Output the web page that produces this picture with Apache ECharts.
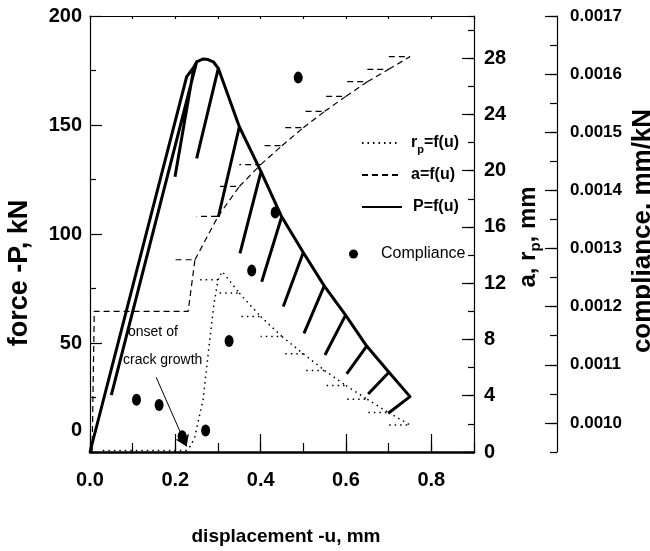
<!DOCTYPE html>
<html>
<head>
<meta charset="utf-8">
<script src="https://cdn.jsdelivr.net/npm/echarts@6/dist/echarts.min.js"></script>
<style>
  html, body { margin: 0; padding: 0; background: #fff; }
  #chart { width: 650px; height: 551px; }
</style>
</head>
<body>
<div id="chart"></div>
<script>
// Load-displacement record with partial unloading cycles.
// null entries split the polylines: each piece runs along the loading path
// to an unloading point and then down the unloading branch.
const forceU = [0, 0.2266, 0.2437, 0.1992, null,
  0.2437, 0.2500, 0.0499, null,
  0.2500, 0.2538, 0.2655, 0.2765, 0.2890, 0.3007, 0.2500, null,
  0.3007, 0.3500, 0.3007, null,
  0.3500, 0.4008, 0.3515, null,
  0.4008, 0.4493, 0.4024, null,
  0.4493, 0.4999, 0.4530, null,
  0.4999, 0.5490, 0.5015, null,
  0.5490, 0.5990, 0.5507, null,
  0.5990, 0.6485, 0.6016, null,
  0.6485, 0.7007, 0.6520, null,
  0.7007, 0.7500, 0.6990];
const forceP = [0, 172.2, 176.6, 126.3, null,
  176.6, 179.0, 26.1, null,
  179.0, 179.0, 180.3, 180.0, 179.0, 176.0, 134.7, null,
  176.0, 149.2, 107.8, null,
  149.2, 128.6, 91.1, null,
  128.6, 107.9, 78.1, null,
  107.9, 91.5, 66.7, null,
  91.5, 76.2, 54.4, null,
  76.2, 62.8, 44.5, null,
  62.8, 48.6, 35.8, null,
  48.6, 36.6, 26.6, null,
  36.6, 25.4, 17.8];

// Crack length a (mm) against displacement
const crackU = [0.005, 0.010, 0.230, 0.246, 0.199, null,
  0.246, 0.300, 0.250, null,
  0.300, 0.350, 0.300, null,
  0.350, 0.400, 0.350, null,
  0.400, 0.450, 0.400, null,
  0.450, 0.500, 0.450, null,
  0.500, 0.550, 0.500, null,
  0.550, 0.600, 0.550, null,
  0.600, 0.650, 0.600, null,
  0.650, 0.700, 0.650, null,
  0.700, 0.750, 0.700];
const crackA = [0, 10.0, 10.0, 13.67, 13.67, null,
  13.67, 16.75, 16.75, null,
  16.75, 18.88, 18.88, null,
  18.88, 20.43, 20.43, null,
  20.43, 21.78, 21.78, null,
  21.78, 23.06, 23.06, null,
  23.06, 24.22, 24.22, null,
  24.22, 25.29, 25.29, null,
  25.29, 26.33, 26.33, null,
  26.33, 27.21, 27.21, null,
  27.21, 28.11, 28.11];

// Plastic zone size r_p (mm) against displacement
const plasticU = [0.030, 0.225, 0.235, 0.245, 0.265, 0.280, 0.290, 0.300, 0.250, null,
  0.300, 0.310, 0.350, 0.300, null,
  0.350, 0.400, 0.350, null,
  0.400, 0.450, 0.400, null,
  0.450, 0.500, 0.450, null,
  0.500, 0.550, 0.500, null,
  0.550, 0.600, 0.550, null,
  0.600, 0.650, 0.600, null,
  0.650, 0.700, 0.650, null,
  0.700, 0.750, 0.700];
const plasticR = [0.1, 0.1, 0.4, 1.0, 3.7, 7.8, 10.4, 12.24, 12.24, null,
  12.24, 12.83, 11.30, 11.30, null,
  11.30, 9.63, 9.63, null,
  9.63, 8.21, 8.21, null,
  8.21, 6.98, 6.98, null,
  6.98, 5.79, 5.79, null,
  5.79, 4.72, 4.72, null,
  4.72, 3.75, 3.75, null,
  3.75, 2.80, 2.80, null,
  2.80, 1.92, 1.92];

// Compliance (mm/kN) from the unloading branches
const complianceU = [0.109, 0.162, 0.216, 0.271, 0.326, 0.379, 0.434, 0.488];
const complianceC = [0.001040, 0.001031, 0.000977, 0.000987, 0.001141, 0.001262, 0.001362, 0.001594];

// Tick label values
const complianceTicks = [0.0010, 0.0011, 0.0012, 0.0013, 0.0014, 0.0015, 0.0016, 0.0017];

// Onset-of-crack-growth pointer, in (u, P)
const onsetFrom = [0.155, 34.3];
const onsetTo = [0.2265, 2.5];

const FONT = "'Liberation Sans', Arial, Helvetica, sans-serif";
const BLACK = '#000';

const pairs = (xs, ys) => xs.map((x, i) => [x, ys[i]]);

const tickStyle = { color: BLACK, width: 1.2 };
const labelBase = { color: BLACK, fontFamily: FONT, fontWeight: 'bold', fontSize: 20 };

// Line legends show only the line sample, no marker
const lineLegend = (name, top, width, richText) => ({
  data: [name], left: 361, top: top, padding: 0, itemWidth: width, itemHeight: 14,
  itemStyle: { opacity: 0, borderWidth: 0 },
  formatter: richText,
  textStyle: { rich: {
    g: { width: 6 },
    t: { fontFamily: FONT, fontWeight: 'bold', fontSize: 16, color: BLACK, lineHeight: 24 },
    s: { fontFamily: FONT, fontWeight: 'bold', fontSize: 11, color: BLACK, lineHeight: 10, verticalAlign: 'bottom' }
  } }
});

const chart = echarts.init(document.getElementById('chart'), null, { renderer: 'canvas' });

chart.setOption({
  animation: false,
  backgroundColor: '#fff',
  grid: { left: 90, right: 176, top: 16, bottom: 99, outerBoundsMode: 'none' },
  xAxis: [
    {
      type: 'value', position: 'bottom', min: 0, max: 0.9, interval: 0.2,
      axisLine: { show: true, onZero: false, lineStyle: { color: BLACK, width: 2.5 } },
      axisTick: { show: true, inside: true, length: 18, lineStyle: tickStyle },
      axisLabel: Object.assign({}, labelBase, { margin: 18, showMaxLabel: false,
        formatter: v => v.toFixed(1) }),
      splitLine: { show: false }
    },
    {
      type: 'value', position: 'bottom', min: 0, max: 0.9, interval: 0.1,
      axisLine: { show: false, onZero: false },
      axisTick: { show: true, inside: true, length: 9, lineStyle: tickStyle },
      axisLabel: { show: false },
      splitLine: { show: false }
    },
    {
      type: 'value', position: 'top', min: 0, max: 0.9, interval: 0.1,
      axisLine: { show: true, onZero: false, lineStyle: { color: BLACK, width: 1.2 } },
      axisTick: { show: true, inside: true, length: 3, lineStyle: tickStyle },
      axisLabel: { show: false },
      splitLine: { show: false }
    }
  ],
  yAxis: [
    {
      type: 'value', position: 'left', min: 0, max: 200, interval: 50,
      axisLine: { show: true, onZero: false, lineStyle: { color: BLACK, width: 1.2 } },
      axisTick: { show: true, inside: true, length: 12, lineStyle: tickStyle },
      minorTick: { show: true, splitNumber: 2, length: 6, lineStyle: tickStyle },
      axisLabel: Object.assign({}, labelBase, {
        margin: 8,
        formatter: v => (v === 0 ? '{z|0}' : String(v)),
        rich: { z: Object.assign({}, labelBase, { padding: [0, 0, 44, 0] }) }
      }),
      splitLine: { show: false }
    },
    {
      type: 'value', position: 'right', min: 0, max: 31, interval: 4,
      axisLine: { show: true, onZero: false, lineStyle: { color: BLACK, width: 1.2 } },
      axisTick: { show: true, inside: true, length: 12, lineStyle: tickStyle },
      axisLabel: Object.assign({}, labelBase, { margin: 10, showMaxLabel: false }),
      splitLine: { show: false }
    },
    {
      type: 'value', position: 'right', min: 0, max: 31, interval: 2,
      axisLine: { show: false, onZero: false },
      axisTick: { show: true, inside: true, length: 6, lineStyle: tickStyle },
      axisLabel: { show: false },
      splitLine: { show: false }
    },
    {
      type: 'value', position: 'right', offset: 83, min: 0.00095, max: 0.0017,
      axisLine: { show: true, onZero: false, lineStyle: { color: BLACK, width: 1.2 } },
      axisTick: { show: true, inside: true, length: 12, lineStyle: tickStyle, customValues: complianceTicks },
      axisLabel: Object.assign({}, labelBase, { fontSize: 17, margin: 13,
        customValues: complianceTicks, formatter: v => v.toFixed(4) }),
      splitLine: { show: false }
    },
    {
      type: 'value', position: 'right', offset: 83, min: 0.00095, max: 0.0017, interval: 0.00005,
      axisLine: { show: false, onZero: false },
      axisTick: { show: true, inside: true, length: 7, lineStyle: tickStyle },
      axisLabel: { show: false },
      splitLine: { show: false }
    }
  ],
  legend: [
    lineLegend('rp=f(u)', 135, 38, () => '{g|}{t|r}{s|p}{t|=f(u)}'),
    lineLegend('a=f(u)', 167, 38, n => '{g|}{t|' + n + '}'),
    lineLegend('P=f(u)', 199, 40, n => '{g|}{t|' + n + '}'),
    {
      data: [{ name: 'Compliance', icon: 'circle' }], left: 349, top: 246, padding: 0,
      itemWidth: 9, itemHeight: 12, symbolKeepAspect: false,
      itemStyle: { color: BLACK },
      formatter: n => '{g|}{t|' + n + '}',
      textStyle: { rich: {
        g: { width: 18 },
        t: { fontFamily: FONT, fontSize: 16, color: BLACK, lineHeight: 20 }
      } }
    }
  ],
  series: [
    {
      name: 'rp=f(u)', type: 'line', xAxisIndex: 0, yAxisIndex: 1,
      data: pairs(plasticU, plasticR), symbol: 'none', connectNulls: false,
      itemStyle: { color: BLACK },
      lineStyle: { color: BLACK, width: 1.5, type: [1.5, 4] }, z: 2
    },
    {
      name: 'a=f(u)', type: 'line', xAxisIndex: 0, yAxisIndex: 1,
      data: pairs(crackU, crackA), symbol: 'none', connectNulls: false,
      itemStyle: { color: BLACK },
      lineStyle: { color: BLACK, width: 1.2, type: [6, 4] }, z: 2
    },
    {
      name: 'P=f(u)', type: 'line', xAxisIndex: 0, yAxisIndex: 0,
      data: pairs(forceU, forceP), symbol: 'none', connectNulls: false,
      itemStyle: { color: BLACK },
      lineStyle: { color: BLACK, width: 3, join: 'round' }, z: 3,
      markLine: {
        silent: true, symbol: ['none', 'arrow'], symbolSize: 11,
        label: { show: false },
        lineStyle: { color: BLACK, width: 1, type: 'solid' },
        data: [[{ coord: onsetFrom }, { coord: onsetTo }]]
      }
    },
    {
      name: 'Compliance', type: 'scatter', xAxisIndex: 0, yAxisIndex: 3,
      data: pairs(complianceU, complianceC), symbol: 'circle', symbolSize: [9, 12],
      itemStyle: { color: BLACK, opacity: 1 }, z: 4
    }
  ],
  graphic: [
    {
      type: 'text', x: 20, y: 273, rotation: Math.PI / 2, silent: true,
      style: { text: 'force -P, kN', font: 'bold 27px ' + FONT, fill: BLACK,
        align: 'center', verticalAlign: 'middle', textAlign: 'center', textVerticalAlign: 'middle' }
    },
    {
      type: 'text', x: 286, y: 537, silent: true,
      style: { text: 'displacement -u, mm', font: 'bold 19px ' + FONT, fill: BLACK,
        align: 'center', verticalAlign: 'middle', textAlign: 'center', textVerticalAlign: 'middle' }
    },
    {
      type: 'text', x: 528, y: 237, rotation: Math.PI / 2, silent: true,
      style: {
        text: '{b|a, r}{s|p}{b|, mm}', fill: BLACK,
        align: 'center', verticalAlign: 'middle', textAlign: 'center', textVerticalAlign: 'middle',
        rich: {
          b: { fontFamily: FONT, fontWeight: 'bold', fontSize: 24, fill: BLACK, lineHeight: 30 },
          s: { fontFamily: FONT, fontWeight: 'bold', fontSize: 15, fill: BLACK, lineHeight: 14, verticalAlign: 'bottom' }
        }
      }
    },
    {
      type: 'text', x: 643, y: 231, rotation: Math.PI / 2, silent: true,
      style: { text: 'compliance, mm/kN', font: 'bold 26px ' + FONT, fill: BLACK,
        align: 'center', verticalAlign: 'middle', textAlign: 'center', textVerticalAlign: 'middle' }
    },
    {
      type: 'text', x: 128, y: 332, silent: true,
      style: { text: 'onset of', font: '14px ' + FONT, fill: BLACK,
        align: 'left', verticalAlign: 'middle', textAlign: 'left', textVerticalAlign: 'middle' }
    },
    {
      type: 'text', x: 123, y: 360, silent: true,
      style: { text: 'crack growth', font: '14px ' + FONT, fill: BLACK,
        align: 'left', verticalAlign: 'middle', textAlign: 'left', textVerticalAlign: 'middle' }
    }
  ]
});
</script>
</body>
</html>
